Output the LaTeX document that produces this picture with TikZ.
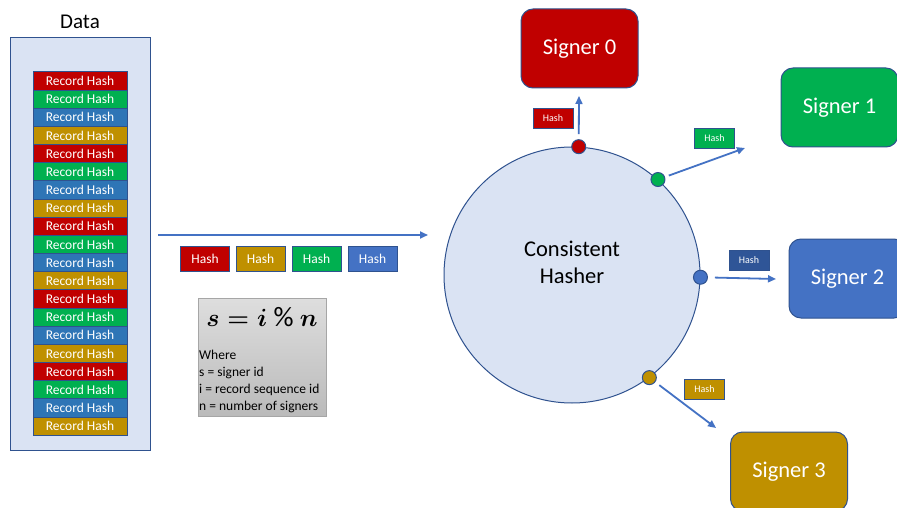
\documentclass[tikz,border=0pt]{standalone}
\usepackage{fontspec}
\setmainfont{Carlito}
\usetikzlibrary{arrows.meta}

\definecolor{sigred}{HTML}{C00000}
\definecolor{siggreen}{HTML}{00B050}
\definecolor{sigblue}{HTML}{4472C4}
\definecolor{recblue}{HTML}{2E75B6}
\definecolor{siggold}{HTML}{BF9000}
\definecolor{darkblue}{HTML}{2F5597}
\definecolor{edgeblue}{HTML}{2F528F}
\definecolor{paleblue}{HTML}{DAE3F3}

\newcommand{\modsign}{\mathbin{\mbox{\normalfont\%}}}

\tikzset{
  recbox/.style={draw=edgeblue, line width=0.8pt, minimum width=94, minimum height=18.2,
    inner sep=0, text=white, font=\fontsize{13.5}{14}\selectfont},
  hashbox/.style={draw=edgeblue, line width=0.8pt, minimum width=49, minimum height=25,
    inner sep=0, text=white, font=\fontsize{13.5}{14}\selectfont},
  tinyhash/.style={draw=edgeblue, line width=0.8pt, minimum width=40, minimum height=20,
    inner sep=0, text=white, font=\fontsize{10}{11}\selectfont},
  signer/.style={draw=edgeblue, line width=1pt, rounded corners=12, minimum width=117,
    minimum height=79, inner sep=0, text=white, font=\fontsize{22.5}{24}\selectfont},
  dot/.style={circle, draw=edgeblue, line width=1pt, minimum size=14, inner sep=0},
  flow/.style={draw=sigblue, line width=1.8pt, -{Triangle[length=8pt,width=7pt]}}
}

\begin{document}
\begin{tikzpicture}[x=1pt, y=-1pt]
    \useasboundingbox[fill=white] (0,0) rectangle (897,508);

    % data column
    \node (datatitle) at (80,22) {\fontsize{21}{22}\selectfont Data};
    \node [draw=edgeblue, line width=1pt, fill=paleblue, minimum width=140, minimum height=412, inner sep=0] (data) at (80,244) {};
    \foreach \k in {0,...,4}
      \foreach \c [count=\j from 0] in {sigred,siggreen,recblue,siggold} {
        \pgfmathtruncatemacro\n{4*\k+\j}
        \node [recbox, fill=\c] (rec\n) at (80, 81+\n*18.16) {Record Hash};
      }

    % incoming hashes
    \coordinate (in0) at (158,235);
    \coordinate (in1) at (428,235);
    \draw [flow] (in0) -- (in1);
    \node [hashbox, fill=sigred] (row0) at (205,258.5) {Hash};
    \node [hashbox, fill=siggold] (row1) at (260.5,258.5) {Hash};
    \node [hashbox, fill=siggreen] (row2) at (316.5,258.5) {Hash};
    \node [hashbox, fill=sigblue] (row3) at (372.5,258.5) {Hash};

    % formula
    \node [draw=black!35, line width=0.8pt, top color=black!13, bottom color=black!27, minimum width=128, minimum height=118, inner sep=0] (formulabox) at (262,357) {};
    \node [font=\fontsize{28}{30}\selectfont\boldmath] (formula) at (262,317) {$s = i \modsign n$};
    \node [anchor=north west, align=left, inner sep=0, font=\fontsize{13.5}{17}\selectfont] (legend) at (199,350)
      {Where\\s = signer id\\i = record sequence id\\n = number of signers};

    % consistent hasher
    \node [circle, draw=edgeblue, line width=1pt, fill=paleblue, minimum size=256, inner sep=0] (hasher) at (572,275) {};
    \node [align=center, font=\fontsize{22.5}{27}\selectfont] (hashertext) at (572,262) {Consistent\\Hasher};
    \node [dot, fill=sigred] (d0) at (hasher.87) {};
    \node [dot, fill=siggreen] (d1) at (hasher.48) {};
    \node [dot, fill=sigblue] (d2) at (hasher.-1) {};
    \node [dot, fill=siggold] (d3) at (hasher.-53) {};

    % signers
    \node [signer, fill=sigred] (s0) at (579.5,48.5) {Signer 0};
    \node [signer, fill=siggreen] (s1) at (839.5,107.5) {Signer 1};
    \node [signer, fill=sigblue] (s2) at (847.5,278.5) {Signer 2};
    \node [signer, fill=siggold] (s3) at (789,471.5) {Signer 3};

    \coordinate (e0) at (579,96);
    \coordinate (e1) at (745,148);
    \coordinate (e2) at (776,279);
    \coordinate (e3) at (716,428);
    \draw [flow, shorten <=5] (d0) -- (e0);
    \draw [flow, shorten <=4] (d1) -- (e1);
    \draw [flow, shorten <=7] (d2) -- (e2);
    \draw [flow, shorten <=5] (d3) -- (e3);

    \node [tinyhash, fill=sigred] (h0) at (553,118) {Hash};
    \node [tinyhash, fill=siggreen] (h1) at (714.5,138) {Hash};
    \node [tinyhash, fill=darkblue] (h2) at (749,260.5) {Hash};
    \node [tinyhash, fill=siggold] (h3) at (704.5,389) {Hash};
\end{tikzpicture}
\end{document}
